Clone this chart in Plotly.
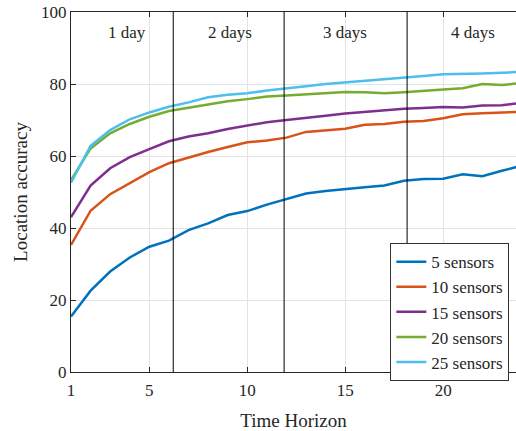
import plotly.graph_objects as go

horizon = list(range(1, 25))
s5 = [15.4, 22.6, 27.9, 31.8, 34.8, 36.5, 39.4, 41.3, 43.6, 44.7, 46.5, 48.0,
      49.6, 50.3, 50.7, 51.3, 51.8, 53.1, 53.6, 53.7, 54.9, 54.4, 55.9, 57.3]
s10 = [35.3, 44.8, 49.4, 52.4, 55.5, 58.0, 59.6, 61.1, 62.5, 63.8, 64.3, 65.1,
       66.7, 67.1, 67.6, 68.7, 68.9, 69.5, 69.7, 70.5, 71.6, 71.9, 72.0, 72.3]
s15 = [43.0, 51.8, 56.6, 59.7, 61.9, 64.1, 65.4, 66.3, 67.5, 68.4, 69.4, 70.0,
       70.7, 71.2, 71.8, 72.3, 72.8, 73.1, 73.3, 73.6, 73.5, 74.0, 74.1, 74.8]
s20 = [53.3, 62.1, 66.3, 68.9, 70.9, 72.5, 73.4, 74.4, 75.2, 75.8, 76.5, 76.8,
       77.1, 77.4, 77.8, 77.7, 77.4, 77.7, 78.2, 78.5, 78.8, 80.0, 79.7, 80.3]
s25 = [52.6, 62.8, 67.2, 70.2, 72.1, 73.7, 74.9, 76.3, 77.0, 77.4, 78.2, 78.7,
       79.4, 80.0, 80.4, 80.8, 81.3, 81.8, 82.2, 82.7, 82.7, 82.9, 83.1, 83.4]
series_names = ["5 sensors", "10 sensors", "15 sensors", "20 sensors", "25 sensors"]
colors = ["#0072BD", "#D95319", "#7E2F8E", "#77AC30", "#4DBEEE"]

day_bounds = [6.22, 11.88, 18.16]
day_labels = ["1 day", "2 days", "3 days", "4 days"]
day_label_x = [3.84, 9.11, 14.98, 21.5]
x_ticks = [1, 5, 10, 15, 20]
y_ticks = [0, 20, 40, 60, 80, 100]

FONT = "Liberation Serif"
TXT = "#262626"

fig = go.Figure()
for name, ys, c in zip(series_names, [s5, s10, s15, s20, s25], colors):
    fig.add_trace(go.Scatter(
        x=horizon, y=ys, mode="lines", name=name,
        line=dict(color=c, width=2.5)))

for xb in day_bounds:
    fig.add_shape(type="line", x0=xb, x1=xb, y0=0, y1=100, xref="x", yref="y",
                  line=dict(color="black", width=1))

for lx, lt in zip(day_label_x, day_labels):
    fig.add_annotation(x=lx, y=94.4, text=lt, showarrow=False, xref="x", yref="y",
                       font=dict(family=FONT, size=17, color=TXT))

fig.update_layout(
    width=516, height=431,
    margin=dict(l=71, r=0, t=12, b=59, autoexpand=False),
    paper_bgcolor="white", plot_bgcolor="white",
    font=dict(family=FONT, color=TXT, size=17),
    showlegend=True,
    legend=dict(x=0.985, y=0.358, xanchor="right", yanchor="top",
                bgcolor="white", bordercolor="#333333", borderwidth=1,
                font=dict(family=FONT, size=17, color=TXT),
                tracegroupgap=0),
)
fig.update_xaxes(range=[1, 23.72], tickvals=x_ticks, ticktext=[str(t) for t in x_ticks],
                 showgrid=True, gridcolor="#e3e3e3", gridwidth=1,
                 showline=True, linecolor=TXT, linewidth=1, mirror="ticks",
                 ticks="inside", ticklen=5, tickcolor=TXT,
                 tickfont=dict(family=FONT, size=17, color=TXT),
                 ticklabelstandoff=3,
                 zeroline=False,
                 title=dict(text="Time Horizon", font=dict(family=FONT, size=19, color=TXT),
                            standoff=14))
fig.update_yaxes(range=[0, 100], tickvals=y_ticks,
                 showgrid=True, gridcolor="#e3e3e3", gridwidth=1,
                 showline=True, linecolor=TXT, linewidth=1,
                 ticks="inside", ticklen=5, tickcolor=TXT,
                 tickfont=dict(family=FONT, size=17, color=TXT),
                 zeroline=False,
                 title=dict(text="Location accuracy", font=dict(family=FONT, size=19, color=TXT),
                            standoff=8))

fig.write_html("out.html", config={"displayModeBar": False},
               post_script="document.body.style.margin='0';document.body.style.padding='0';")
